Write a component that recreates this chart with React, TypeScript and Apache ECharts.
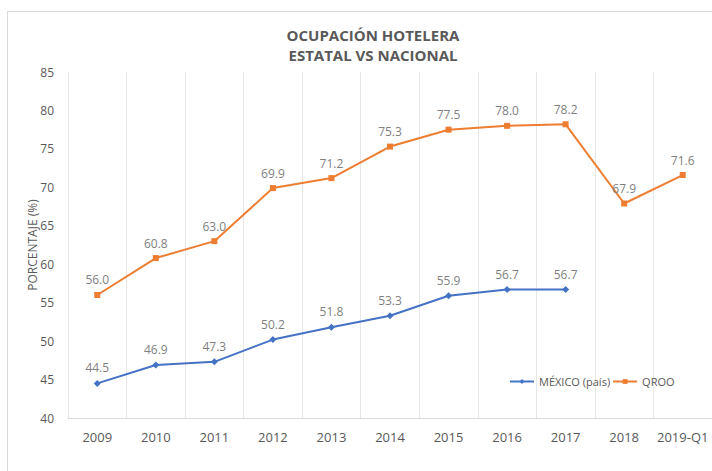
import React, { useEffect, useRef } from "react";
import * as echarts from "echarts";

const categories = ["2009", "2010", "2011", "2012", "2013", "2014", "2015", "2016", "2017", "2018", "2019-Q1"];
const mexico = [44.5, 46.9, 47.3, 50.2, 51.8, 53.3, 55.9, 56.7, 56.7, null, null];
const qroo = [56.0, 60.8, 63.0, 69.9, 71.2, 75.3, 77.5, 78.0, 78.2, 67.9, 71.6];
const titleLines = ["OCUPACIÓN HOTELERA", "ESTATAL VS NACIONAL"];
const yAxisName = "PORCENTAJE (%)";
const seriesNames = ["MÉXICO (país)", "QROO"];

const FONT = "'Open Sans', 'DejaVu Sans', sans-serif";

export default function App() {
  const ref = useRef<HTMLDivElement>(null);
  useEffect(() => {
    if (!ref.current) return;
    const chart = echarts.init(ref.current, null, { renderer: "svg" });
    const label = {
      show: true,
      position: "top",
      distance: 6,
      color: "#7f7f7f",
      fontSize: 12,
      fontFamily: FONT,
      formatter: (p: any) => (p.value == null ? "" : Number(p.value).toFixed(1)),
    };
    chart.setOption({
      animation: false,
      backgroundColor: "#ffffff",
      title: {
        text: titleLines.join("\n"),
        left: 368,
        top: 20,
        textAlign: "center",
        textStyle: {
          color: "#595959",
          fontSize: 15,
          fontWeight: "bold",
          fontFamily: FONT,
          lineHeight: 20,
        },
      },
      graphic: [
        {
          type: "rect",
          shape: { x: 7.5, y: 11.5, width: 760, height: 500 },
          style: { fill: "none", stroke: "#d9d9d9", lineWidth: 1 },
          silent: true,
        },
      ],
      legend: {
        data: seriesNames,
        left: 504,
        top: 371,
        itemWidth: 24,
        itemHeight: 6,
        itemGap: 2,
        textStyle: { color: "#595959", fontSize: 11, fontFamily: FONT },
      },
      grid: { left: 68, right: -2, top: 72, bottom: 53, containLabel: false },
      xAxis: {
        type: "category",
        data: categories,
        boundaryGap: true,
        axisLine: { show: true, lineStyle: { color: "#d9d9d9" } },
        axisTick: { show: false, interval: 0 },
        axisLabel: { color: "#595959", fontSize: 13, fontFamily: FONT, margin: 12, interval: 0 },
        splitLine: { show: true, interval: 0, lineStyle: { color: "#e6e6e6" } },
      },
      yAxis: {
        type: "value",
        min: 40,
        max: 85,
        interval: 5,
        name: yAxisName,
        nameLocation: "middle",
        nameGap: 30,
        nameMoveOverlap: false,
        nameTextStyle: { color: "#595959", fontSize: 12, fontFamily: FONT },
        axisLine: { show: false },
        axisTick: { show: false },
        axisLabel: { color: "#595959", fontSize: 12, fontFamily: FONT, margin: 14 },
        splitLine: { show: false },
      },
      series: [
        {
          name: seriesNames[0],
          type: "line",
          data: mexico,
          color: "#4472c4",
          symbol: "diamond",
          symbolSize: 7,
          lineStyle: { width: 2, color: "#4472c4" },
          itemStyle: { color: "#4472c4" },
          label,
        },
        {
          name: seriesNames[1],
          type: "line",
          data: qroo,
          color: "#ed7d31",
          symbol: "rect",
          symbolSize: 6,
          lineStyle: { width: 2, color: "#ed7d31" },
          itemStyle: { color: "#ed7d31" },
          label,
        },
      ],
    });
    return () => chart.dispose();
  }, []);
  return <div ref={ref} style={{ width: 712, height: 471, position: "absolute", left: 0, top: 0 }} />;
}
